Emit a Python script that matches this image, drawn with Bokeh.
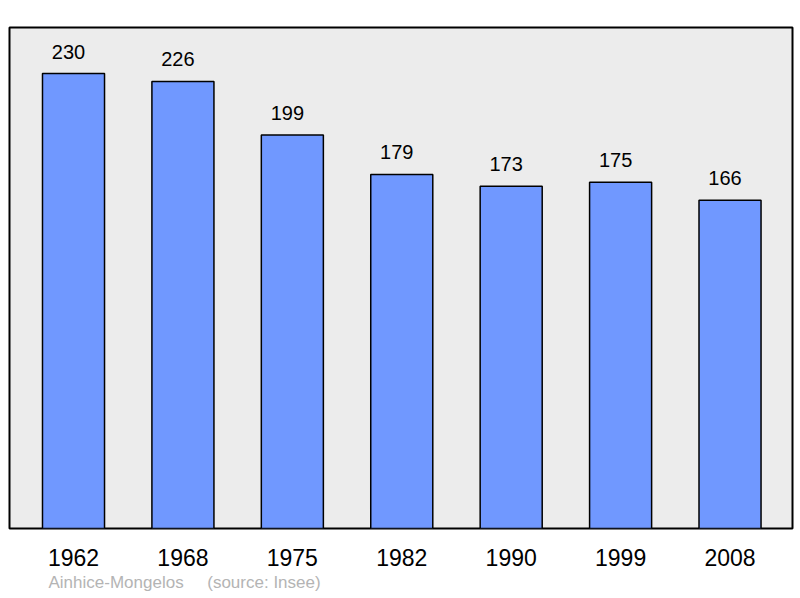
from bokeh.plotting import figure
from bokeh.models import Range1d, FixedTicker, Title, ColumnDataSource
from bokeh.embed import file_html
from bokeh.resources import INLINE
from bokeh.core.properties import value

years = ["1962", "1968", "1975", "1982", "1990", "1999", "2008"]
population = [230, 226, 199, 179, 173, 175, 166]
commune = "Ainhice-Mongelos"
source = "(source: Insee)"

xs = list(range(len(years)))
src = ColumnDataSource(dict(x=xs, y=population, label=[str(v) for v in population]))

p = figure(width=794, height=594, output_backend="svg", toolbar_location=None,
           x_range=Range1d(-0.585, 6.571), y_range=Range1d(0, 253.3),
           min_border_left=9, min_border_right=2, min_border_top=27, min_border_bottom=4)
p.background_fill_color = "#ececec"
p.border_fill_color = "white"
p.outline_line_color = "black"
p.outline_line_width = 2
p.xgrid.visible = False
p.ygrid.visible = False
p.yaxis.visible = False

p.vbar(x="x", top="y", width=0.567, bottom=0, source=src,
       fill_color="#7098ff", line_color="black", line_width=1.5)
p.text(x="x", y="y", text="label", source=src, text_align="center",
       text_baseline="bottom", x_offset=-5, y_offset=-15, text_font_size="20px",
       text_font=value("Liberation Sans"), text_color="black")

ax = p.xaxis[0]
ax.ticker = FixedTicker(ticks=xs)
ax.major_label_overrides = {i: y for i, y in zip(xs, years)}
ax.axis_line_color = None
ax.major_tick_line_color = None
ax.minor_tick_line_color = None
ax.major_label_standoff = 14
ax.major_label_text_font_size = "23px"
ax.major_label_text_font = "Liberation Sans"
ax.major_label_text_color = "black"

gap = "\u00a0" * 5
t = Title(text=commune + gap + source, align="left", offset=39,
          text_font_size="17px", text_font="Liberation Sans",
          text_color="#b4b4b4", text_font_style="normal", standoff=5)
p.add_layout(t, "below")

open("out.html", "w").write(file_html(p, INLINE))
